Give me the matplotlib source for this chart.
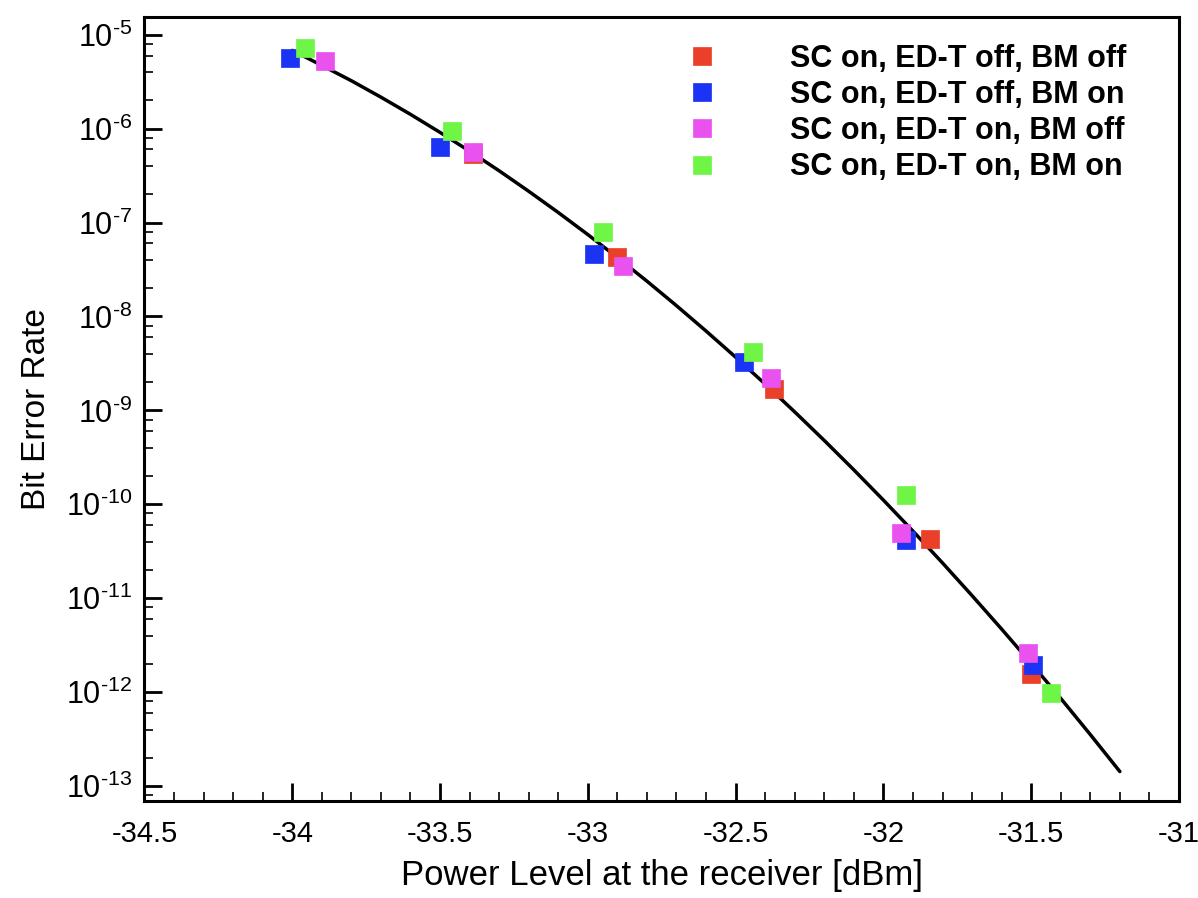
import matplotlib
matplotlib.use('Agg')
import matplotlib.pyplot as plt
from matplotlib.ticker import LogLocator, MultipleLocator, NullFormatter, FuncFormatter
import numpy as np

plt.rcParams['font.family'] = ['Liberation Sans', 'DejaVu Sans']
plt.rcParams['mathtext.fontset'] = 'custom'
plt.rcParams['mathtext.rm'] = 'Liberation Sans'
plt.rcParams['mathtext.it'] = 'Liberation Sans:italic'
plt.rcParams['mathtext.bf'] = 'Liberation Sans:bold'

# Colours
RED = '#EA4029'
BLUE = '#1A33F5'
MAGENTA = '#EA52F0'
GREEN = '#6EF546'

# Measured points (power in dBm, BER)
red_x = [-33.39, -32.90, -32.37, -31.843, -31.502]
red_y = [5.4e-7, 4.27e-8, 1.67e-9, 4.3e-11, 1.58e-12]

blue_x = [-34.008, -33.499, -32.98, -32.472, -31.922, -31.493]
blue_y = [5.7e-6, 6.3e-7, 4.67e-8, 3.3e-9, 4.2e-11, 1.97e-12]

magenta_x = [-33.89, -33.39, -32.88, -32.38, -31.942, -31.512]
magenta_y = [5.2e-6, 5.6e-7, 3.44e-8, 2.23e-9, 5.0e-11, 2.6e-12]

green_x = [-33.957, -33.46, -32.95, -32.44, -31.922, -31.433]
green_y = [7.3e-6, 9.4e-7, 7.9e-8, 4.2e-9, 1.27e-10, 0.99e-12]

# Fitted curve (x in dBm, log10 of BER)
fit_x = [-34.0, -33.9, -33.8, -33.7, -33.6, -33.5, -33.4, -33.3, -33.2, -33.1,
         -33.0, -32.9, -32.8, -32.7, -32.6, -32.5, -32.4, -32.3, -32.2, -32.1,
         -32.0, -31.9, -31.8, -31.7, -31.6, -31.5, -31.4, -31.3, -31.2]
fit_log = [-5.167, -5.327, -5.490, -5.665, -5.848, -6.040, -6.240, -6.449,
           -6.667, -6.893, -7.128, -7.372, -7.624, -7.885, -8.155, -8.433,
           -8.720, -9.016, -9.320, -9.633, -9.955, -10.285, -10.624, -10.972,
           -11.328, -11.693, -12.066, -12.451, -12.845]

labels = ['SC on, ED-T off, BM off', 'SC on, ED-T off, BM on',
          'SC on, ED-T on, BM off', 'SC on, ED-T on, BM on']

fig = plt.figure(figsize=(11.98, 8.98), dpi=100)
ax = fig.add_axes([0.1206, 0.1084, 0.8635, 0.8723])

ax.plot(fit_x, 10.0 ** np.array(fit_log), color='black', linewidth=2.5,
        zorder=2, solid_joinstyle='round', solid_capstyle='round')

series = [(red_x, red_y, RED), (blue_x, blue_y, BLUE),
          (magenta_x, magenta_y, MAGENTA), (green_x, green_y, GREEN)]
for (xs, ys, col), lab in zip(series, labels):
    ax.plot(xs, ys, linestyle='none', marker='s', markersize=13,
            markerfacecolor=col, markeredgecolor=col, markeredgewidth=0.5,
            label=lab, zorder=3)

ax.set_yscale('log')
ax.set_xlim(-34.5, -31)
ax.set_ylim(10 ** -13.155, 10 ** -4.815)


def xfmt(v, pos):
    return '%g' % v


def yfmt(v, pos):
    e = int(round(np.log10(v)))
    return r'$\mathregular{10^{\text{-%d}}}$' % (-e)


ax.xaxis.set_major_locator(MultipleLocator(0.5))
ax.xaxis.set_minor_locator(MultipleLocator(0.1))
ax.xaxis.set_major_formatter(FuncFormatter(xfmt))
ax.yaxis.set_major_locator(LogLocator(base=10, numticks=20))
ax.yaxis.set_minor_locator(LogLocator(base=10, subs=[2, 4, 6, 8], numticks=20))
ax.yaxis.set_major_formatter(FuncFormatter(yfmt))
ax.yaxis.set_minor_formatter(NullFormatter())

for s in ax.spines.values():
    s.set_linewidth(2.2)

ax.tick_params(which='both', direction='in', top=False, right=False)
ax.tick_params(which='major', length=12.7, width=2.0)
ax.tick_params(which='minor', length=6.5, width=1.2)
ax.tick_params(axis='x', which='major', labelsize=21, pad=14)
ax.tick_params(axis='y', which='major', labelsize=22, pad=9)

ax.set_xlabel('Power Level at the receiver [dBm]', fontsize=25, labelpad=8)
ax.set_ylabel('Bit Error Rate', fontsize=24, labelpad=10)

ax.legend(loc='upper left', bbox_to_anchor=(0.509, 0.966), frameon=False,
          numpoints=1, borderpad=0, borderaxespad=0, handlelength=2.0,
          handletextpad=1.9, labelspacing=0.2,
          prop={'size': 22, 'weight': 'bold'})

fig.savefig('out.png', dpi=100)
